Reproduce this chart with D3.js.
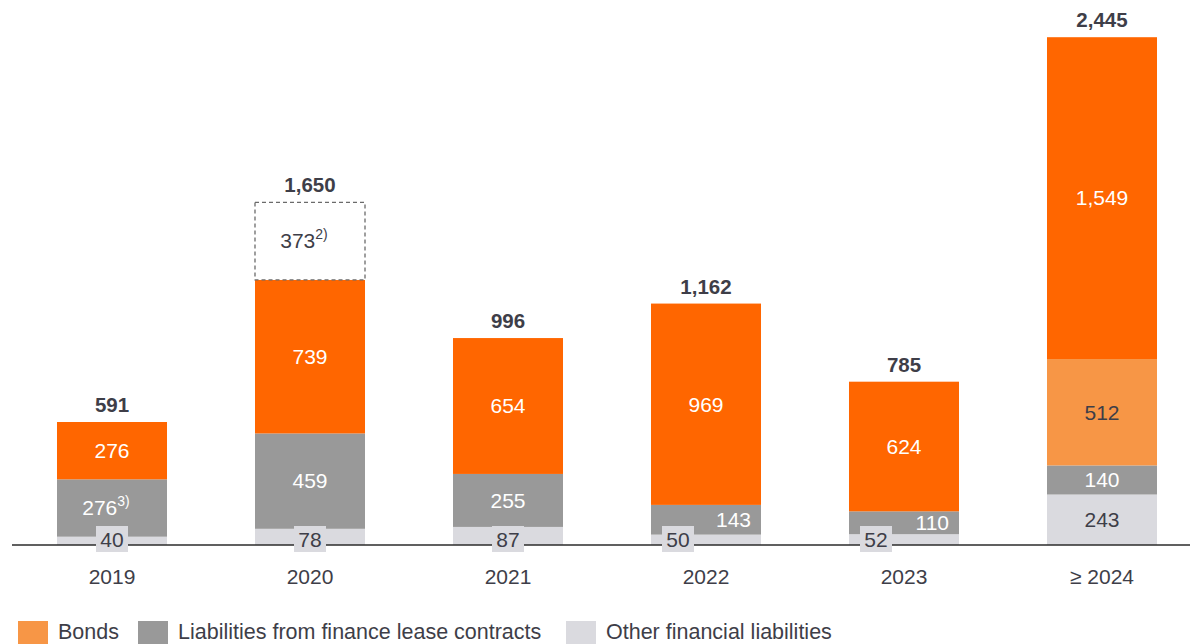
<!DOCTYPE html>
<html>
<head>
<meta charset="utf-8">
<script src="https://cdn.jsdelivr.net/npm/d3@7"></script>
<style>
  body { margin: 0; background: #fff; }
  text { font-family: "Liberation Sans", Arial, sans-serif; }
</style>
</head>
<body>
<script>
// data
var years = ["2019", "2020", "2021", "2022", "2023", "\u2265 2024"];
var other = [40, 78, 87, 50, 52, 243];
var leases = [276, 459, 255, 143, 110, 140];
var bondsLight = [0, 0, 0, 0, 0, 512];
var bonds = [276, 739, 654, 969, 624, 1549];
var open = [0, 373, 0, 0, 0, 0];
var totals = [591, 1650, 996, 1162, 785, 2445];
var leaseNotes = ["3)", "", "", "", "", ""];
var openNotes = ["", "2)", "", "", "", ""];
var legendNames = ["Bonds", "Liabilities from finance lease contracts", "Other financial liabilities"];

var keys = ["other", "leases", "bondsLight", "bonds", "open"];
var colors = {other: "#dadadf", leases: "#999999", bondsLight: "#f79646", bonds: "#ff6600", open: "#ffffff"};
var textColors = {other: "#3e3e48", leases: "#ffffff", bondsLight: "#3e3e48", bonds: "#ffffff", open: "#3e3e48"};
var fmt = d3.format(",");

var rows = years.map(function(y, i) {
  return {year: y, other: other[i], leases: leases[i], bondsLight: bondsLight[i],
          bonds: bonds[i], open: open[i], total: totals[i], i: i};
});

var w = 1190, h = 644;
var svg = d3.select("body").append("svg").attr("width", w).attr("height", h);

var x = d3.scaleBand().domain(years).range([13, 1201]).paddingInner(0.4444).paddingOuter(0.2222);
var y = d3.scaleLinear().domain([0, 2445]).range([545, 37]);

var series = d3.stack().keys(keys)(rows);

var layer = svg.selectAll("g.layer")
  .data(series)
  .enter().append("g")
  .attr("class", "layer");

layer.selectAll("rect")
  .data(function(s) { return s.map(function(d) { d.key = s.key; return d; }); })
  .enter().append("rect")
  .filter(function(d) { return d[1] > d[0]; })
  .attr("x", function(d) { return x(d.data.year); })
  .attr("y", function(d) { return y(d[1]); })
  .attr("width", x.bandwidth())
  .attr("height", function(d) { return y(d[0]) - y(d[1]); })
  .attr("fill", function(d) { return colors[d.key]; })
  .attr("stroke", function(d) { return d.key === "open" ? "#6b6b6b" : "none"; })
  .attr("stroke-width", 1.3)
  .attr("stroke-dasharray", function(d) { return d.key === "open" ? "4,3" : null; });

// baseline / x axis
var axis = svg.append("g")
  .attr("transform", "translate(0,545)")
  .call(d3.axisBottom(x).tickSize(0).tickPadding(24).tickSizeOuter(0));
axis.select(".domain").attr("stroke", "#2b2b2b").attr("stroke-width", 1.5)
  .attr("d", "M12,0H1190");
axis.selectAll("text").attr("font-size", 21).attr("fill", "#3e3e48")
  .style("font-family", "Liberation Sans, Arial, sans-serif");

// segment labels
series.forEach(function(s) {
  s.forEach(function(d) {
    var v = d[1] - d[0];
    if (v <= 0) return;
    var i = d.data.i;
    var x0 = x(d.data.year), bw = x.bandwidth();
    var segH = y(d[0]) - y(d[1]);
    var cy = (y(d[0]) + y(d[1])) / 2;
    var cx = x0 + bw / 2;
    var anchor = "middle";
    var tight = y(0) - y(d.data.other + d.data.leases) < 50;

    if (s.key === "other" && segH < 25) {
      // small value sits in a box over the baseline
      var bx = tight ? x0 + 27 : cx;
      svg.append("rect")
        .attr("x", bx - 16).attr("y", 526).attr("width", 32).attr("height", 26)
        .attr("fill", colors.other);
      svg.append("text")
        .attr("x", bx).attr("y", 540).attr("dy", "0.35em")
        .attr("text-anchor", "middle").attr("font-size", 21)
        .attr("fill", textColors.other).text(v);
      return;
    }
    if (s.key === "leases" && tight) {
      cx = x0 + bw - 10;
      anchor = "end";
    }
    var t = svg.append("text")
      .attr("x", cx).attr("y", cy).attr("dy", "0.35em")
      .attr("text-anchor", anchor).attr("font-size", 21)
      .attr("fill", textColors[s.key]);
    t.append("tspan").text(fmt(v));
    var note = s.key === "leases" ? leaseNotes[i] : s.key === "open" ? openNotes[i] : "";
    if (note) {
      t.attr("x", cx - 6);
      t.append("tspan").attr("font-size", 14).attr("dy", "-0.7em").text(note);
    }
  });
});

// totals
svg.selectAll("text.total")
  .data(rows)
  .enter().append("text")
  .attr("class", "total")
  .attr("x", function(d) { return x(d.year) + x.bandwidth() / 2; })
  .attr("y", function(d) { return y(d.total) - 10; })
  .attr("text-anchor", "middle")
  .attr("font-size", 20.5)
  .attr("font-weight", "bold")
  .attr("fill", "#3e3e48")
  .text(function(d) { return fmt(d.total); });

// legend (sits at the very bottom edge, as in the source)
var legendColors = [colors.bondsLight, colors.leases, colors.other];
var legendX = [18, 138, 566];
var lg = svg.selectAll("g.legend")
  .data(legendNames)
  .enter().append("g")
  .attr("class", "legend")
  .attr("transform", function(d, i) { return "translate(" + legendX[i] + ",621)"; });
lg.append("rect").attr("width", 30).attr("height", 30)
  .attr("fill", function(d, i) { return legendColors[i]; });
lg.append("text").attr("x", 40).attr("y", 17.5).attr("font-size", 21.5)
  .attr("fill", "#3e3e48").text(function(d) { return d; });
</script>
</body>
</html>
